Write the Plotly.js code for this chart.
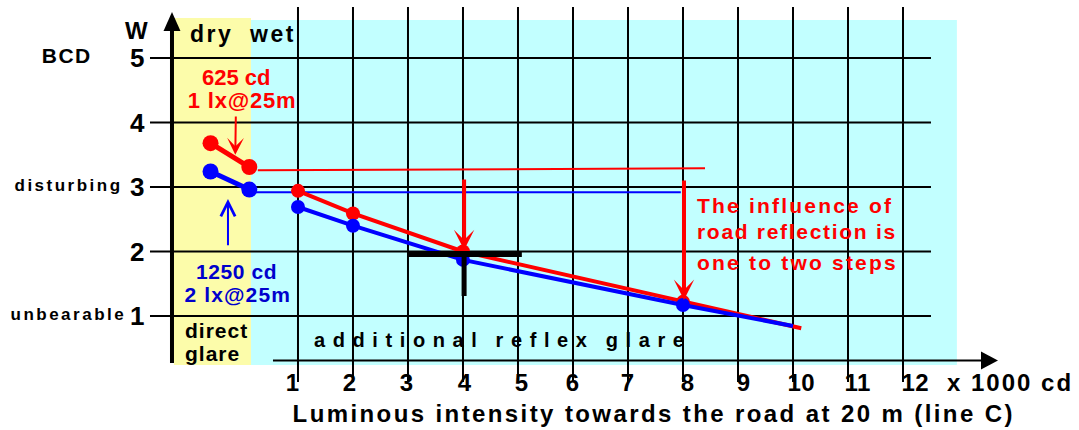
<!DOCTYPE html>
<html>
<head>
<meta charset="utf-8">
<script src="https://cdn.plot.ly/plotly-3.0.1.min.js"></script>
<style>
html, body { margin: 0; padding: 0; background: #ffffff; }
#chart { width: 1079px; height: 430px; }
</style>
</head>
<body>
<div id="chart"></div>
<script>
// ---------------- data ----------------
const intensityTicks = [1, 2, 3, 4, 5, 6, 7, 8, 9, 10, 11, 12];
const intensityLabels = ['1', '2', '3', '4', '5', '6', '7', '8', '9', '10', '11', '12'];
const glareLevels = [1, 2, 3, 4, 5];
const glareLabels = ['1', '2', '3', '4', '5'];
const glareWordLevels = [3, 1];
const glareWords = ['disturbing', 'unbearable'];

// main curves (x 1000 cd vs. W); the last point is the open line end
const redX = [1, 2, 4, 8, 10.15];
const redY = [2.94, 2.59, 2.0, 1.22, 0.81];
const blueX = [1, 2, 4, 8, 10.0];
const blueY = [2.69, 2.40, 1.87, 1.17, 0.845];

// direct glare pairs (dry / wet)
const directX = [-0.59, 0.115];
const redDirectY = [3.68, 3.31];
const blueDirectY = [3.24, 2.96];

// thin reference levels
const redRefX = [0.27, 8.4];
const redRefY = [3.26, 3.29];
const blueRefX = [0.115, 7.96];
const blueRefY = [2.92, 2.92];

// black cross marking 4000 cd
const crossX = [3.0, 5.07];
const crossLevel = 1.96;
const crossCenterX = 4.02;
const crossLowY = 1.31;

// ---------------- styling ----------------
const FONT = 'Liberation Sans, Arial, sans-serif';
const RED = '#ff0000';
const BLUE = '#0000ff';
const BLUE_TXT = '#0000cc';

const xRange = [-4.418, 15.2];
const yRange = [-0.767, 5.899];

// --------------- traces ---------------
const nPts = redX.length - 1;
const traces = [
  { x: redRefX, y: redRefY, mode: 'lines', line: { color: RED, width: 2 }, hoverinfo: 'skip' },
  { x: blueRefX, y: blueRefY, mode: 'lines', line: { color: BLUE, width: 2 }, hoverinfo: 'skip' },
  { x: redX, y: redY, mode: 'lines', line: { color: RED, width: 4 } },
  { x: redX.slice(0, nPts), y: redY.slice(0, nPts), mode: 'markers',
    marker: { color: RED, size: 14, opacity: 1, line: { width: 0 } } },
  { x: blueX, y: blueY, mode: 'lines', line: { color: BLUE, width: 4 } },
  { x: blueX.slice(0, nPts), y: blueY.slice(0, nPts), mode: 'markers',
    marker: { color: BLUE, size: 14, opacity: 1, line: { width: 0 } } },
  { x: directX, y: redDirectY, mode: 'lines+markers', line: { color: RED, width: 5 },
    marker: { color: RED, size: 16, opacity: 1, line: { width: 0 } } },
  { x: directX, y: blueDirectY, mode: 'lines+markers', line: { color: BLUE, width: 5 },
    marker: { color: BLUE, size: 16, opacity: 1, line: { width: 0 } } }
];

// --------------- shapes ---------------
const shapes = [];
shapes.push({ type: 'rect', layer: 'below', x0: -1.255, x1: 0.145, y0: 0.24, y1: 5.62,
  fillcolor: '#fcfcaa', line: { width: 0 } });
shapes.push({ type: 'rect', layer: 'below', x0: 0.145, x1: 12.98, y0: 0.24, y1: 5.589,
  fillcolor: '#c2ffff', line: { width: 0 } });
intensityTicks.forEach(k => shapes.push({ type: 'line', layer: 'below', x0: k, x1: k, y0: -0.023, y1: 5.791,
  line: { color: '#000000', width: 2 } }));
glareLevels.forEach(v => shapes.push({ type: 'line', layer: 'below', x0: -1.691, x1: 12.509, y0: v, y1: v,
  line: { color: '#000000', width: 2 } }));
// y axis with arrow
shapes.push({ type: 'line', layer: 'below', x0: -1.291, x1: -1.291, y0: 0.271, y1: 5.5,
  line: { color: '#000000', width: 4 } });
shapes.push({ type: 'path', layer: 'below', path: 'M -1.291 5.713 L -1.445 5.419 L -1.137 5.419 Z',
  fillcolor: '#000000', line: { width: 0 } });
// x axis with arrow
shapes.push({ type: 'line', layer: 'below', x0: 0.545, x1: 13.5, y0: 0.31, y1: 0.31,
  line: { color: '#000000', width: 2 } });
shapes.push({ type: 'path', layer: 'below', path: 'M 13.727 0.31 L 13.418 0.45 L 13.418 0.171 Z',
  fillcolor: '#000000', line: { width: 0 } });
// cross
shapes.push({ type: 'line', layer: 'above', x0: crossX[0], x1: crossX[1], y0: crossLevel, y1: crossLevel,
  line: { color: '#000000', width: 6 } });
shapes.push({ type: 'line', layer: 'above', x0: crossCenterX, x1: crossCenterX, y0: crossLowY, y1: 2.0,
  line: { color: '#000000', width: 5 } });

// --------------- annotations ---------------
const annotations = [];
const spacing = [];
const wordSpacing = [];
function note(text, x, y, size, color, opts, ls, ws) {
  const a = Object.assign({
    text: text, x: x, y: y, xref: 'x', yref: 'y', showarrow: false,
    xanchor: 'center', yanchor: 'middle', align: 'center',
    font: { family: FONT, size: size, color: color, weight: 700 }
  }, opts || {});
  annotations.push(a);
  spacing.push(ls || 0);
  wordSpacing.push(ws || 0);
}
function arrow(x, y, ax, ay, color, width, head, size) {
  annotations.push({ text: '', x: x, y: y, ax: ax, ay: ay, xref: 'x', yref: 'y', axref: 'x', ayref: 'y',
    showarrow: true, arrowcolor: color, arrowwidth: width, arrowhead: head, arrowsize: size, standoff: 0, startstandoff: 0 });
  spacing.push(0);
  wordSpacing.push(0);
}

note('W', -1.945, 5.434, 24, '#000');
note('BCD', -3.2, 5.036, 21, '#000', null, 1.5);
glareLevels.forEach((v, i) => note(glareLabels[i], -1.927, v, 26, '#000'));
glareWordLevels.forEach((v, i) => note(glareWords[i], -3.18, v + 0.02, 17, '#000', null, 2.5));
note('dry', -1.0, 5.367, 23, '#000', { xanchor: 'left', align: 'left' }, 2.5);
note('wet', 0.073, 5.367, 23, '#000', { xanchor: 'left', align: 'left' }, 2.5);
note('625 cd', -0.127, 4.699, 22, RED, null, 0);
note('1 lx@25m', -0.018, 4.338, 22, RED, null, 0.8);
note('1250 cd', -0.127, 1.69, 21, BLUE_TXT, null, 0.6);
note('2 lx@25m', -0.091, 1.333, 21, BLUE_TXT, null, 1.1);
note('direct', -1.091, 0.775, 21, '#000', { xanchor: 'left', align: 'left' }, 1);
note('glare', -1.091, 0.418, 21, '#000', { xanchor: 'left', align: 'left' }, 1);
note('additional reflex glare', 1.2545, 0.636, 20, '#000', { xanchor: 'left', align: 'left' }, 7.6, -2);
note('The influence of', 8.218, 2.713, 21, RED, { xanchor: 'left', align: 'left' }, 2.2);
note('road reflection is', 8.218, 2.318, 21, RED, { xanchor: 'left', align: 'left' }, 1.7);
note('one to two steps', 8.218, 1.837, 21, RED, { xanchor: 'left', align: 'left' }, 2.2);
const tickShift = [-5, -3, -1, 2, 4, -1, -1, 4, 5, 8, 9, 12];
intensityTicks.forEach((k, i) => note(intensityLabels[i], k, -0.029, 24, '#000', { xshift: tickShift[i] }, 0.5));
note('x 1000 cd', 13.945, -0.029, 24, '#000', null, 2);
note('Luminous intensity towards the road at 20 m (line C)', 7.455, -0.51, 24, '#000', null, 2.4);

arrow(4.02, 2.023, 4.02, 3.14, RED, 4, 3, 0.85);
arrow(8.018, 1.248, 8.018, 3.124, RED, 4, 3, 0.85);
arrow(-0.14, 3.50, -0.13, 4.116, RED, 2, 3, 1.4);
arrow(-0.273, 2.814, -0.273, 2.074, BLUE, 2, 5, 1.4);

// per-annotation letter / word spacing
let css = '';
spacing.forEach((ls, i) => {
  let rule = '';
  if (ls) rule += 'letter-spacing: ' + ls + 'px; ';
  if (wordSpacing[i]) rule += 'word-spacing: ' + wordSpacing[i] + 'px; ';
  if (rule) css += 'g.annotation[data-index="' + i + '"] text { ' + rule + '}\n';
});
const st = document.createElement('style');
st.textContent = css;
document.head.appendChild(st);

const layout = {
  width: 1079, height: 430,
  margin: { l: 0, r: 0, t: 0, b: 0, pad: 0 },
  paper_bgcolor: '#ffffff', plot_bgcolor: '#ffffff',
  showlegend: false,
  font: { family: FONT },
  xaxis: { range: xRange, visible: false, fixedrange: true },
  yaxis: { range: yRange, visible: false, fixedrange: true },
  shapes: shapes,
  annotations: annotations
};

Plotly.newPlot('chart', traces, layout, { staticPlot: true, displayModeBar: false });
</script>
</body>
</html>
